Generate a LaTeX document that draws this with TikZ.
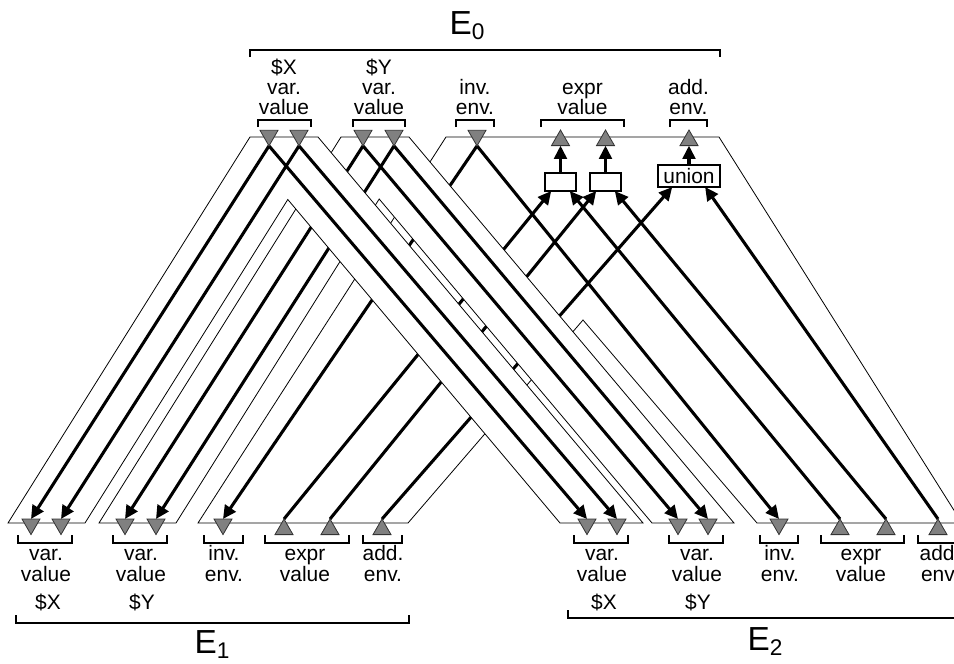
\documentclass[tikz,border=0pt]{standalone}
\usepackage{fontspec}
\setmainfont{Liberation Sans}
\usetikzlibrary{shapes.geometric,arrows.meta,calc}
\pgfdeclarelayer{front}
\pgfsetlayers{main,front}

% bracket opening downwards / upwards: x1, x2, y of the bar
\newcommand\tbrk[3]{\draw[brk] (#1,#3+7) -- (#1,#3) -- (#2,#3) -- (#2,#3+7);}
\newcommand\bbrk[3]{\draw[brk] (#1,#3-8) -- (#1,#3) -- (#2,#3) -- (#2,#3-8);}

\begin{document}
\begin{tikzpicture}[x=0.75pt,y=-0.75pt,
  ribbon/.style={fill=white,draw=black,line width=0.6pt,line join=miter},
  wire/.style={line width=2.3pt,-{Triangle[length=10pt,width=9.5pt]}},
  port/.style={regular polygon,regular polygon sides=3,minimum size=15.6pt,
    inner sep=0pt,outer sep=0pt,fill=black!50,draw=black!80,line width=0.6pt},
  dport/.style={port,shape border rotate=180},
  uport/.style={port},
  lbl/.style={font=\fontsize{15.7}{18}\selectfont,inner sep=0pt,anchor=base},
  big/.style={font=\fontsize{25}{29}\selectfont,inner sep=0pt,anchor=base},
  brk/.style={line width=1.5pt},
  opbox/.style={draw,line width=1.5pt,fill=white,inner sep=0pt,outer sep=0pt,
    minimum width=23.25pt,minimum height=13.5pt}
]
\useasboundingbox (0,0) rectangle (954,664);
\clip (0,0) rectangle (954,664);

% ---------------- ports (drawn above everything) ----------------
\begin{pgfonlayer}{front}
  \foreach \n/\x in {tX1/269,tX2/299,tY1/363,tY2/394,tInv/477}
    \node[dport] (\n) at (\x,135.5) {};
  \foreach \n/\x in {tEx1/560.5,tEx2/605.5,tAdd/689}
    \node[uport] (\n) at (\x,140.4) {};
  \foreach \n/\x in {lX1/31,lX2/61,lY1/125,lY2/156,lInv/223,
                     rX1/587,rX2/617,rY1/678,rY2/708,rInv/779}
    \node[dport] (\n) at (\x,524.2) {};
  \foreach \n/\x in {lEx1/284,lEx2/330,lAdd/382,rEx1/840,rEx2/886,rAdd/938}
    \node[uport] (\n) at (\x,529.4) {};
\end{pgfonlayer}

% ---------------- inv. env / expr value / add. env bundle ----------------
\path[ribbon] (446,137) -- (198,523) -- (408,523) -- (583,320)
  -- (757,523) -- (962,523) -- (719,137) -- cycle;
\node[opbox] (box1) at (560.5,182) {};
\node[opbox] (box2) at (605.5,182) {};
\node[opbox,font=\fontsize{15.7}{18}\selectfont,minimum width=46.5pt,minimum height=16.5pt]
  (union) at (689,176) {union};
\draw[wire] (tInv.corner 1) -- (lInv.side 2);
\draw[wire] (tInv.corner 1) -- (rInv.side 2);
\draw[wire] (lEx1.corner 1) -- ($(box1.south west)!0.2!(box1.south east)$);
\draw[wire] (rEx1.corner 1) -- ($(box1.south west)!0.8!(box1.south east)$);
\draw[wire] (lEx2.corner 1) -- ($(box2.south west)!0.2!(box2.south east)$);
\draw[wire] (rEx2.corner 1) -- ($(box2.south west)!0.8!(box2.south east)$);
\draw[wire] (lAdd.corner 1) -- ($(union.south west)!0.23!(union.south east)$);
\draw[wire] (rAdd.corner 1) -- ($(union.south west)!0.76!(union.south east)$);
\draw[wire] (box1.north) -- (tEx1.side 2);
\draw[wire] (box2.north) -- (tEx2.side 2);
\draw[wire] (union.north) -- (tAdd.side 2);

% ---------------- $Y bundle ----------------
\path[ribbon] (341,137) -- (99,523) -- (176,523) -- (379.2,199)
  -- (652,523) -- (734,523) -- (409,137) -- cycle;
\draw[wire] (tY1.corner 1) -- (lY1.side 2);
\draw[wire] (tY2.corner 1) -- (lY2.side 2);
\draw[wire] (tY1.corner 1) -- (rY1.side 2);
\draw[wire] (tY2.corner 1) -- (rY2.side 2);

% ---------------- $X bundle ----------------
\path[ribbon] (250,137) -- (8,523) -- (85,523) -- (287.8,199.5)
  -- (560,523) -- (643,523) -- (318,137) -- cycle;
\draw[wire] (tX1.corner 1) -- (lX1.side 2);
\draw[wire] (tX2.corner 1) -- (lX2.side 2);
\draw[wire] (tX1.corner 1) -- (rX1.side 2);
\draw[wire] (tX2.corner 1) -- (rX2.side 2);

% ---------------- E0 labels ----------------
\node[big] (E0) at (467,34) {E\raisebox{-4pt}{\fontsize{17}{17}\selectfont 0}};
\tbrk{250}{720}{50}
\node[lbl] (t1a) at (284,74) {\$X};
\node[lbl] (t1b) at (284,94) {var.};
\node[lbl] (t1c) at (284,114) {value};
\node[lbl] (t2a) at (379,74) {\$Y};
\node[lbl] (t2b) at (379,94) {var.};
\node[lbl] (t2c) at (379,114) {value};
\node[lbl] (t3b) at (475,94) {inv.};
\node[lbl] (t3c) at (475,114) {env.};
\node[lbl] (t4b) at (582.5,94) {expr};
\node[lbl] (t4c) at (582.5,114) {value};
\node[lbl] (t5b) at (688.5,94) {add.};
\node[lbl] (t5c) at (688.5,114) {env.};
\tbrk{258}{311}{120}
\tbrk{353}{405}{120}
\tbrk{456}{494}{120}
\tbrk{541}{624}{120}
\tbrk{670}{707}{120}

% ---------------- E1 labels ----------------
\bbrk{18}{72}{543}
\bbrk{113}{167}{543}
\bbrk{204}{243}{543}
\bbrk{265}{349}{543}
\bbrk{363}{402}{543}
\node[lbl] (l1a) at (46,560) {var.};
\node[lbl] (l1b) at (46,581) {value};
\node[lbl] (l1c) at (48,609) {\$X};
\node[lbl] (l2a) at (141,560) {var.};
\node[lbl] (l2b) at (141,581) {value};
\node[lbl] (l2c) at (142,609) {\$Y};
\node[lbl] (l3a) at (224,560) {inv.};
\node[lbl] (l3b) at (224,581) {env.};
\node[lbl] (l4a) at (305,560) {expr};
\node[lbl] (l4b) at (305,581) {value};
\node[lbl] (l5a) at (383,560) {add.};
\node[lbl] (l5b) at (383,581) {env.};
\bbrk{16}{409}{623}
\node[big] (E1) at (212,653) {E\raisebox{-4pt}{\fontsize{17}{17}\selectfont 1}};

% ---------------- E2 labels ----------------
\bbrk{574}{628}{543}
\bbrk{669}{723}{543}
\bbrk{760}{798}{543}
\bbrk{821}{904}{543}
\bbrk{918}{957}{543}
\node[lbl] (r1a) at (602,560) {var.};
\node[lbl] (r1b) at (602,581) {value};
\node[lbl] (r1c) at (604,609) {\$X};
\node[lbl] (r2a) at (697,560) {var.};
\node[lbl] (r2b) at (697,581) {value};
\node[lbl] (r2c) at (698,609) {\$Y};
\node[lbl] (r3a) at (780,560) {inv.};
\node[lbl] (r3b) at (780,581) {env.};
\node[lbl] (r4a) at (861,560) {expr};
\node[lbl] (r4b) at (861,581) {value};
\node[lbl] (r5a) at (940,560) {add.};
\node[lbl] (r5b) at (940,581) {env.};
\bbrk{568}{990}{618}
\node[big] (E2) at (765,650) {E\raisebox{-4pt}{\fontsize{17}{17}\selectfont 2}};
\end{tikzpicture}
\end{document}
